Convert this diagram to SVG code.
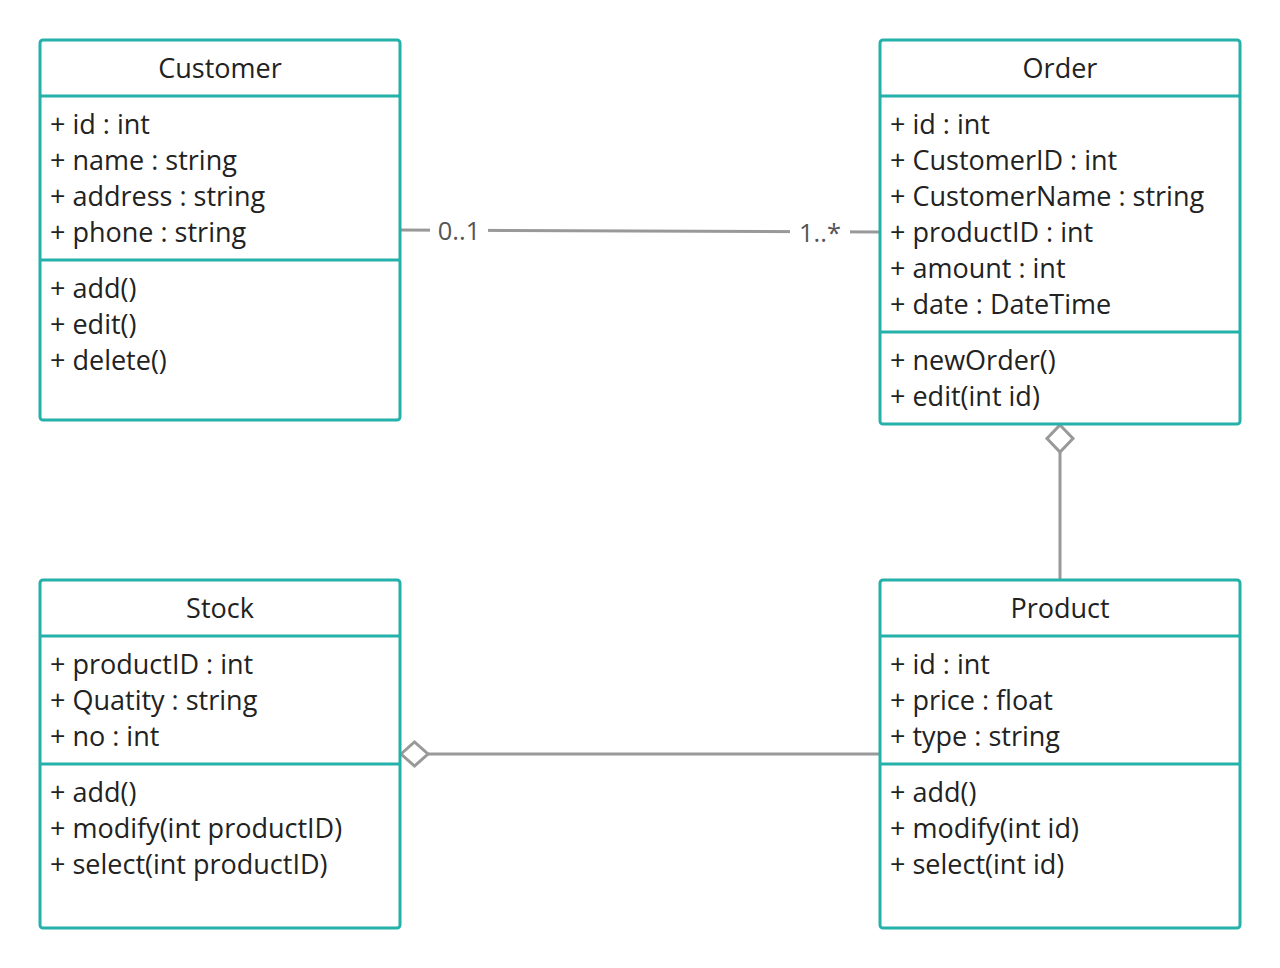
<svg xmlns="http://www.w3.org/2000/svg" width="1280" height="968" viewBox="0 0 1280 968">
<style>
.box{fill:#fff;stroke:#24b1aa;stroke-width:3}
.div{stroke:#24b1aa;stroke-width:3}
.t{font-family:"Open Sans","Noto Sans",sans-serif;font-size:27px;fill:#222}
.h{text-anchor:middle}
.c{stroke:#999;stroke-width:3;fill:none}
.lbl{font-family:"Open Sans","Noto Sans",sans-serif;font-size:25.5px;fill:#555;text-anchor:middle}
</style>
<rect width="1280" height="968" fill="#fff"/>
<g id="connectors">
<line class="c" x1="400" y1="230" x2="880" y2="232"/>
<rect x="430" y="212" width="58" height="36" fill="#fff"/>
<rect x="790" y="214" width="60" height="36" fill="#fff"/>
<text class="lbl" x="459" y="240">0..1</text>
<text class="lbl" x="820" y="242">1..*</text>
<line class="c" x1="1060" y1="452" x2="1060" y2="580"/>
<path class="c" d="M1060 425 L1073 438.5 L1060 452 L1047 438.5 Z" fill="#fff"/>
<line class="c" x1="428" y1="754" x2="880" y2="754"/>
<path class="c" d="M401 754 L414.5 742 L428 754 L414.5 766 Z" fill="#fff"/>
</g>
<g id="customer">
<rect class="box" x="40" y="40" width="360" height="380" rx="3"/>
<line class="div" x1="40" y1="96" x2="400" y2="96"/>
<line class="div" x1="40" y1="260" x2="400" y2="260"/>
<text class="t h" x="220" y="78">Customer</text>
<text class="t" x="50" y="134">+ id : int</text>
<text class="t" x="50" y="170">+ name : string</text>
<text class="t" x="50" y="206">+ address : string</text>
<text class="t" x="50" y="242">+ phone : string</text>
<text class="t" x="50" y="298">+ add()</text>
<text class="t" x="50" y="334">+ edit()</text>
<text class="t" x="50" y="370">+ delete()</text>
</g>
<g id="order">
<rect class="box" x="880" y="40" width="360" height="384" rx="3"/>
<line class="div" x1="880" y1="96" x2="1240" y2="96"/>
<line class="div" x1="880" y1="332" x2="1240" y2="332"/>
<text class="t h" x="1060" y="78">Order</text>
<text class="t" x="890" y="134">+ id : int</text>
<text class="t" x="890" y="170">+ CustomerID : int</text>
<text class="t" x="890" y="206">+ CustomerName : string</text>
<text class="t" x="890" y="242">+ productID : int</text>
<text class="t" x="890" y="278">+ amount : int</text>
<text class="t" x="890" y="314">+ date : DateTime</text>
<text class="t" x="890" y="370">+ newOrder()</text>
<text class="t" x="890" y="406">+ edit(int id)</text>
</g>
<g id="stock">
<rect class="box" x="40" y="580" width="360" height="348" rx="3"/>
<line class="div" x1="40" y1="636" x2="400" y2="636"/>
<line class="div" x1="40" y1="764" x2="400" y2="764"/>
<text class="t h" x="220" y="618">Stock</text>
<text class="t" x="50" y="674">+ productID : int</text>
<text class="t" x="50" y="710">+ Quatity : string</text>
<text class="t" x="50" y="746">+ no : int</text>
<text class="t" x="50" y="802">+ add()</text>
<text class="t" x="50" y="838">+ modify(int productID)</text>
<text class="t" x="50" y="874">+ select(int productID)</text>
</g>
<g id="product">
<rect class="box" x="880" y="580" width="360" height="348" rx="3"/>
<line class="div" x1="880" y1="636" x2="1240" y2="636"/>
<line class="div" x1="880" y1="764" x2="1240" y2="764"/>
<text class="t h" x="1060" y="618">Product</text>
<text class="t" x="890" y="674">+ id : int</text>
<text class="t" x="890" y="710">+ price : float</text>
<text class="t" x="890" y="746">+ type : string</text>
<text class="t" x="890" y="802">+ add()</text>
<text class="t" x="890" y="838">+ modify(int id)</text>
<text class="t" x="890" y="874">+ select(int id)</text>
</g>
</svg>
